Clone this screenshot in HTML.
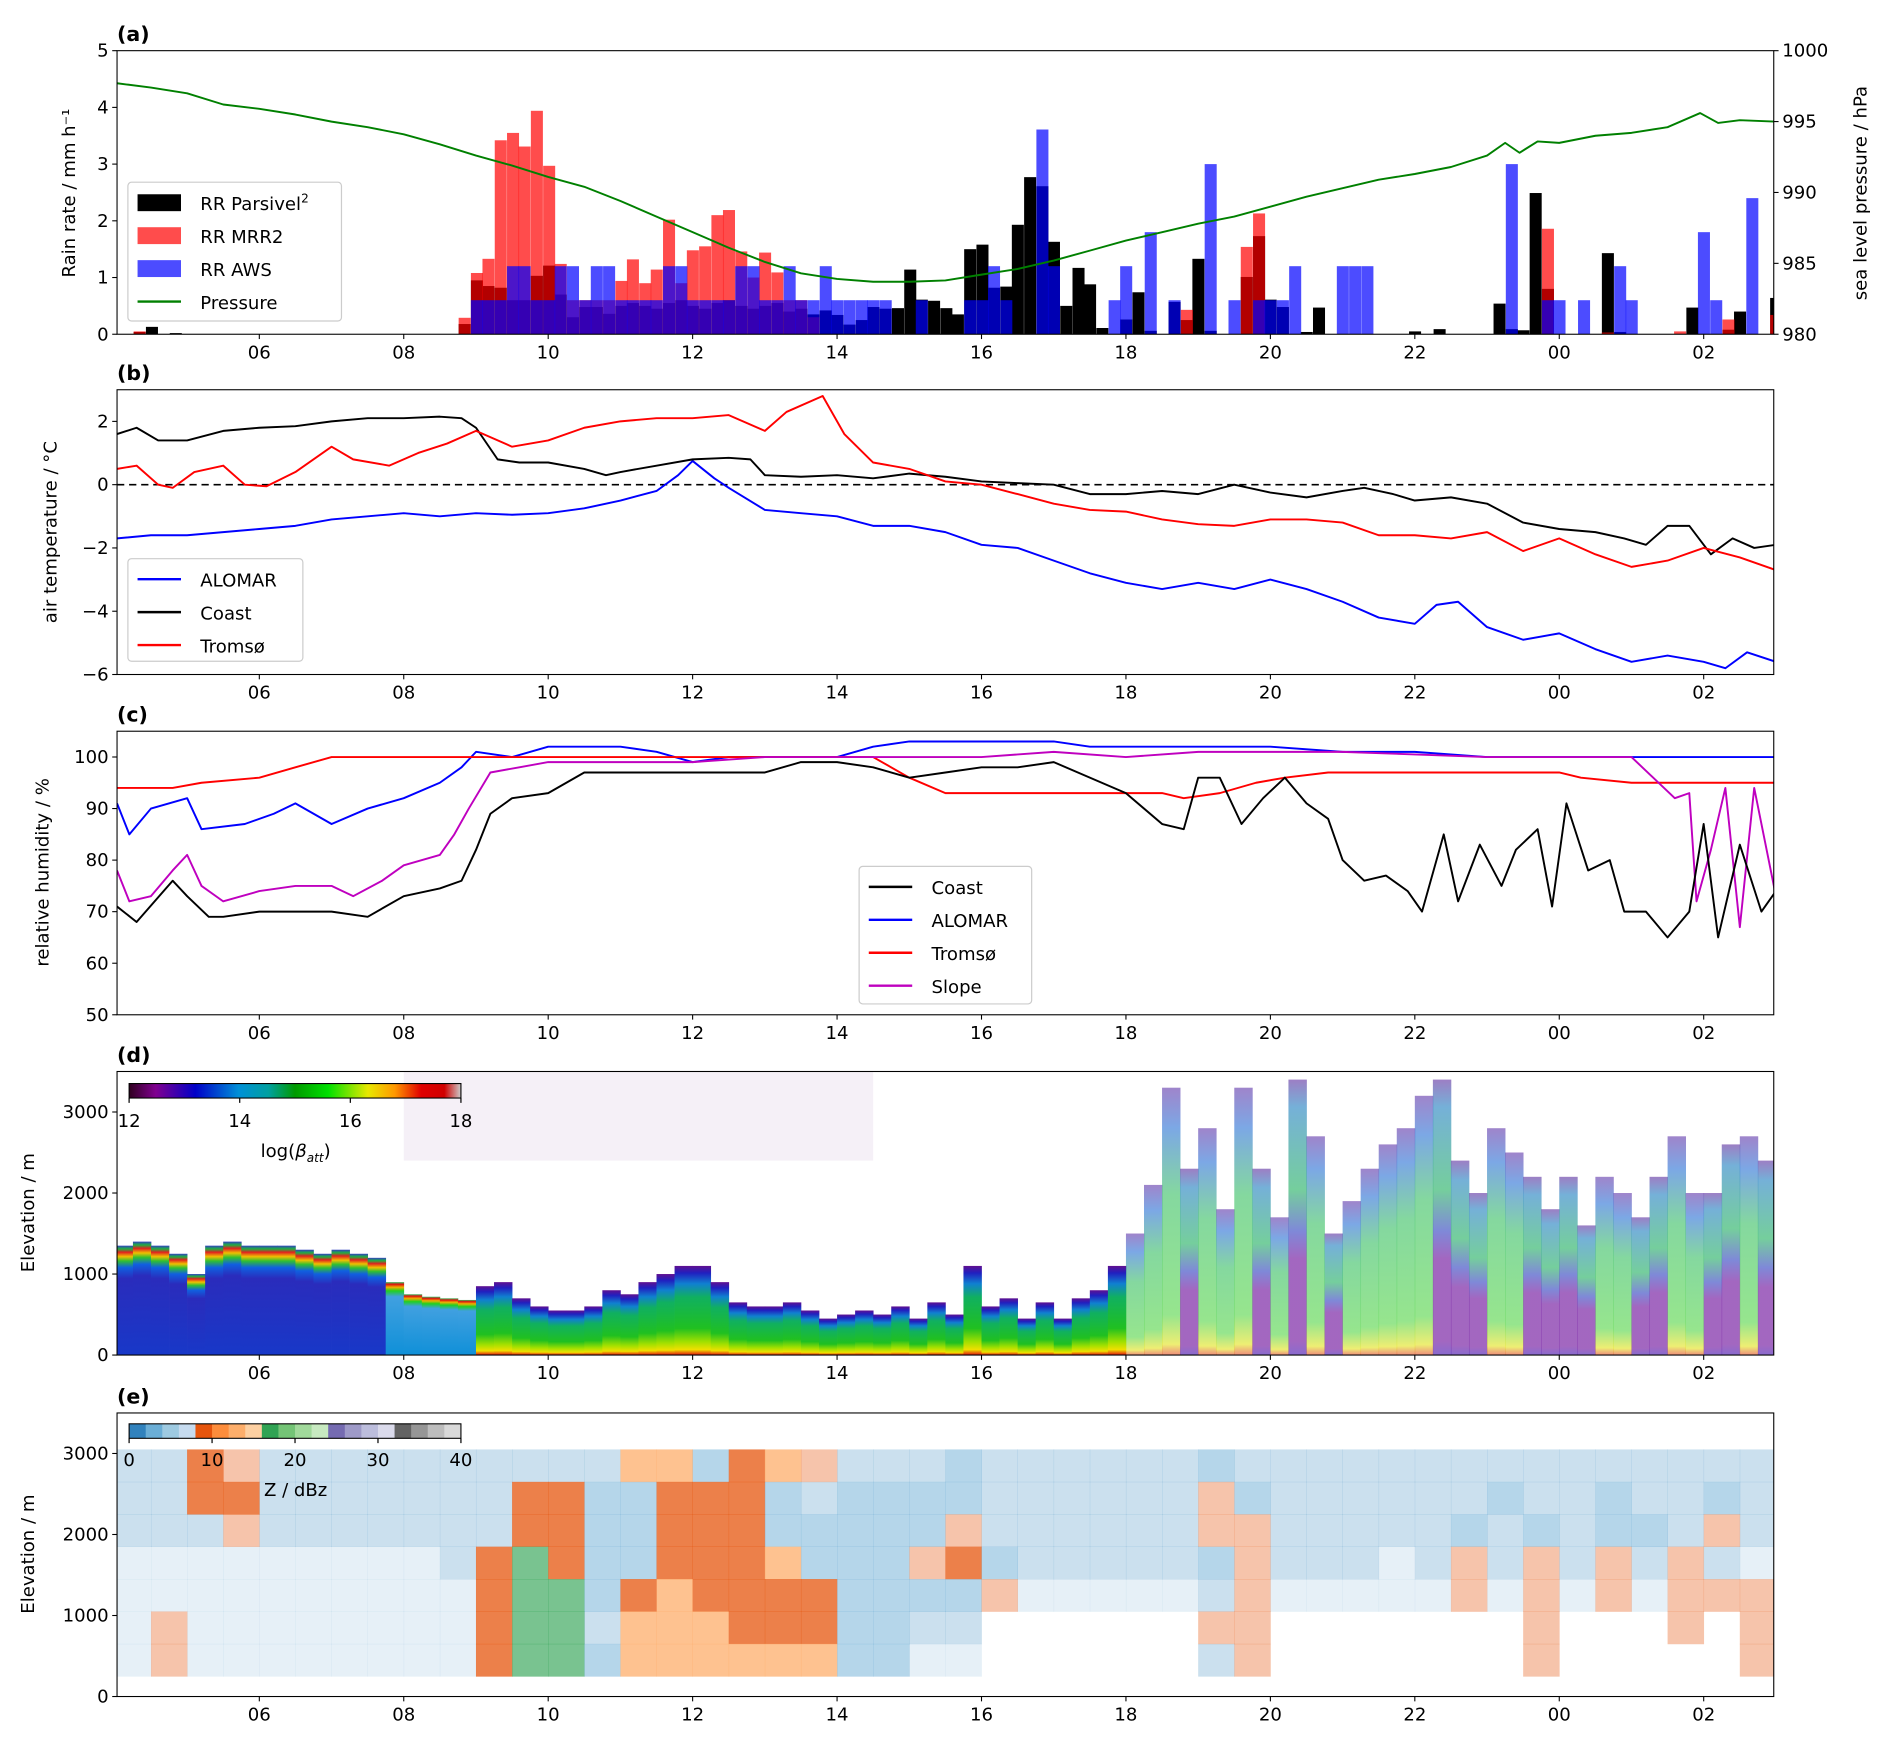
<!DOCTYPE html>
<html><head><meta charset="utf-8">
<style>
html,body{margin:0;padding:0;background:#fff;}
svg{display:block;font-family:"DejaVu Sans","Liberation Sans",sans-serif;}
</style></head>
<body>
<svg id="fig" width="1892" height="1746" viewBox="0 0 1568 1447" xmlns="http://www.w3.org/2000/svg">
<defs>
<linearGradient id="g0" x1="0" y1="1" x2="0" y2="0"><stop offset="0" stop-color="#1838c8"/><stop offset="0.7" stop-color="#2a2cbc"/><stop offset="0.8" stop-color="#1060e0"/><stop offset="0.86" stop-color="#30c030"/><stop offset="0.9" stop-color="#f0c000"/><stop offset="0.94" stop-color="#e02020"/><stop offset="0.97" stop-color="#20b040"/><stop offset="1" stop-color="#3040c0"/></linearGradient>
<linearGradient id="g4" x1="0" y1="1" x2="0" y2="0"><stop offset="0" stop-color="#1090d8"/><stop offset="0.8" stop-color="#40a0e0"/><stop offset="0.88" stop-color="#20d020"/><stop offset="0.93" stop-color="#f0b000"/><stop offset="0.97" stop-color="#e01010"/><stop offset="1" stop-color="#30c060"/></linearGradient>
<linearGradient id="g1" x1="0" y1="1" x2="0" y2="0"><stop offset="0" stop-color="#e01010"/><stop offset="0.06" stop-color="#f0e000"/><stop offset="0.15" stop-color="#a0e000"/><stop offset="0.3" stop-color="#20c020"/><stop offset="0.65" stop-color="#10b060"/><stop offset="0.8" stop-color="#1080d0"/><stop offset="0.92" stop-color="#2020c0"/><stop offset="1" stop-color="#601090"/></linearGradient>
<linearGradient id="g2" x1="0" y1="1" x2="0" y2="0"><stop offset="0" stop-color="#e03010"/><stop offset="0.04" stop-color="#e0e000"/><stop offset="0.15" stop-color="#40d030"/><stop offset="0.6" stop-color="#20b850"/><stop offset="0.85" stop-color="#1060d0"/><stop offset="1" stop-color="#5020a0"/></linearGradient>
<linearGradient id="g3" x1="0" y1="1" x2="0" y2="0"><stop offset="0" stop-color="#4010b0"/><stop offset="0.05" stop-color="#6a0a9a"/><stop offset="0.35" stop-color="#6a0a9a"/><stop offset="0.45" stop-color="#3040c0"/><stop offset="0.6" stop-color="#20b060"/><stop offset="0.9" stop-color="#2080c0"/><stop offset="1" stop-color="#6030a0"/></linearGradient>
<linearGradient id="cbd" x1="0" y1="0" x2="1" y2="0"><stop offset="0" stop-color="#300020"/><stop offset="0.08" stop-color="#800090"/><stop offset="0.2" stop-color="#0000c8"/><stop offset="0.33" stop-color="#0090d8"/><stop offset="0.42" stop-color="#00a0a0"/><stop offset="0.5" stop-color="#009a00"/><stop offset="0.6" stop-color="#00e000"/><stop offset="0.72" stop-color="#e8e800"/><stop offset="0.8" stop-color="#ff9900"/><stop offset="0.88" stop-color="#e00000"/><stop offset="0.95" stop-color="#d00000"/><stop offset="1" stop-color="#cccccc"/></linearGradient>
</defs>
</svg>
<script>
// ---------- data ----------
const parsT=[4.26,4.43,4.76,8.76,8.93,9.09,9.26,9.43,9.59,9.76,9.93,10.09,10.26,10.43,10.59,10.76,10.93,11.09,11.26,11.42,11.59,11.76,11.92,12.09,12.26,12.42,12.59,12.76,12.92,13.09,13.26,13.42,13.59,13.76,13.92,14.09,14.26,14.42,14.59,14.76,14.93,15.09,15.26,15.43,15.59,15.76,15.93,16.09,16.26,16.42,16.59,16.76,16.92,17.09,17.26,17.42,17.59,17.92,18.09,18.26,18.59,18.76,18.92,19.09,19.59,19.76,19.92,20.09,20.42,20.59,21.92,22.26,23.09,23.26,23.42,23.59,23.76,24.59,24.76,25.76,26.26,26.42,26.92];
const parsV=[0.04,0.13,0.02,0.18,0.95,0.85,0.82,0.6,0.6,1.03,1.21,0.7,0.3,0.48,0.48,0.36,0.5,0.55,0.5,0.45,0.55,0.6,0.5,0.45,0.55,0.6,0.5,0.45,0.5,0.55,0.4,0.45,0.35,0.42,0.34,0.17,0.25,0.48,0.45,0.46,1.14,0.61,0.59,0.46,0.35,1.5,1.58,0.82,0.84,1.93,2.77,2.61,1.63,0.5,1.17,0.88,0.11,0.26,0.74,0.06,0.57,0.25,1.33,0.06,1.01,1.73,0.61,0.48,0.04,0.47,0.05,0.09,0.54,0.09,0.07,2.49,0.8,1.43,0.04,0.47,0.08,0.4,0.64];
const mrrT=[4.26,8.76,8.93,9.09,9.26,9.43,9.59,9.76,9.93,10.09,10.26,10.43,10.59,10.76,10.93,11.09,11.26,11.42,11.59,11.76,11.92,12.09,12.26,12.42,12.59,12.76,12.92,13.09,13.26,13.42,13.59,18.76,19.59,19.76,23.76,24.59,25.59,26.26,26.92];
const mrrV=[0.05,0.29,1.08,1.33,3.42,3.55,3.31,3.94,2.97,1.24,0.6,0.6,0.6,0.6,0.94,1.32,0.9,1.14,2.02,0.9,1.48,1.55,2.1,2.19,1.46,1.0,1.44,1.09,0.6,0.6,0.3,0.43,1.54,2.13,1.86,0.03,0.05,0.26,0.34];
const awsT=[8.93,9.09,9.26,9.43,9.59,9.76,9.93,10.09,10.26,10.43,10.59,10.76,10.93,11.09,11.26,11.42,11.59,11.76,11.92,12.09,12.26,12.42,12.59,12.76,12.92,13.09,13.26,13.42,13.59,13.76,13.92,14.09,14.26,14.42,14.59,15.09,15.76,15.93,16.09,16.26,16.76,16.92,17.76,17.92,18.26,18.59,19.09,19.42,19.76,19.92,20.09,20.26,20.92,21.09,21.26,23.26,23.76,23.92,24.26,24.76,24.92,25.92,26.09,26.59];
const awsV=[0.6,0.6,0.6,1.2,1.2,0.6,0.6,1.2,1.2,0.6,1.2,1.2,0.6,0.6,0.6,0.6,1.2,1.2,0.6,0.6,0.6,0.6,1.2,1.2,0.6,0.6,1.2,0.6,0.6,1.2,0.6,0.6,0.6,0.6,0.6,0.6,0.6,0.6,1.2,0.6,3.61,1.2,0.6,1.2,1.8,0.6,3.0,0.6,0.6,0.6,0.6,1.2,1.2,1.2,1.2,3.0,0.6,0.6,0.6,1.2,0.6,1.8,0.6,2.4];
const presT=[4.03,4.5,5,5.5,6,6.5,7,7.5,8,8.5,9,9.5,10,10.5,11,11.5,12,12.5,13,13.5,14,14.5,15,15.5,16,16.5,17,17.5,18,18.5,19,19.5,20,20.5,21,21.5,22,22.5,23,23.25,23.45,23.7,24,24.5,25,25.5,25.95,26.2,26.5,27];
const presV=[997.7,997.4,997.0,996.2,995.9,995.5,995.0,994.6,994.1,993.4,992.6,991.9,991.1,990.4,989.4,988.3,987.2,986.1,985.1,984.3,983.9,983.7,983.7,983.8,984.2,984.6,985.2,985.9,986.6,987.2,987.8,988.3,989.0,989.7,990.3,990.9,991.3,991.8,992.6,993.5,992.8,993.6,993.5,994.0,994.2,994.6,995.6,994.9,995.1,995.0];

const tAloT=[4.03,4.5,5,5.5,6,6.5,7,7.5,8,8.5,9,9.5,10,10.5,11,11.5,11.8,12.0,12.3,12.5,13,13.5,14,14.5,15,15.5,16,16.5,17,17.5,18,18.5,19,19.5,20,20.5,21,21.5,22,22.3,22.6,23,23.5,24,24.5,25,25.5,26,26.3,26.6,27];
const tAloV=[-1.7,-1.6,-1.6,-1.5,-1.4,-1.3,-1.1,-1.0,-0.9,-1.0,-0.9,-0.95,-0.9,-0.75,-0.5,-0.2,0.3,0.75,0.2,-0.1,-0.8,-0.9,-1.0,-1.3,-1.3,-1.5,-1.9,-2.0,-2.4,-2.8,-3.1,-3.3,-3.1,-3.3,-3.0,-3.3,-3.7,-4.2,-4.4,-3.8,-3.7,-4.5,-4.9,-4.7,-5.2,-5.6,-5.4,-5.6,-5.8,-5.3,-5.6];
const tCoaT=[4.03,4.3,4.6,5,5.5,6,6.5,7,7.5,8,8.5,8.8,9.0,9.3,9.6,10,10.5,10.8,11,11.5,12,12.5,12.8,13.0,13.5,14,14.5,15,15.5,16,16.5,17,17.5,18,18.5,19,19.5,20,20.5,21,21.3,21.7,22,22.5,23,23.5,24,24.5,24.9,25.2,25.5,25.8,26.1,26.4,26.7,27];
const tCoaV=[1.6,1.8,1.4,1.4,1.7,1.8,1.85,2.0,2.1,2.1,2.15,2.1,1.8,0.8,0.7,0.7,0.5,0.3,0.4,0.6,0.8,0.85,0.8,0.3,0.25,0.3,0.2,0.35,0.25,0.1,0.05,0.0,-0.3,-0.3,-0.2,-0.3,0.0,-0.25,-0.4,-0.2,-0.1,-0.3,-0.5,-0.4,-0.6,-1.2,-1.4,-1.5,-1.7,-1.9,-1.3,-1.3,-2.2,-1.7,-2.0,-1.9];
const tTroT=[4.03,4.3,4.6,4.8,5.1,5.5,5.8,6.1,6.5,7.0,7.3,7.8,8.2,8.6,9.0,9.5,10,10.5,11,11.5,12,12.5,13,13.3,13.8,14.1,14.5,15,15.5,16,16.5,17,17.5,18,18.5,19,19.5,20,20.5,21,21.5,22,22.5,23,23.5,24,24.5,25,25.5,26,26.5,27];
const tTroV=[0.5,0.6,0.0,-0.1,0.4,0.6,0.0,-0.05,0.4,1.2,0.8,0.6,1.0,1.3,1.7,1.2,1.4,1.8,2.0,2.1,2.1,2.2,1.7,2.3,2.8,1.6,0.7,0.5,0.1,0.0,-0.3,-0.6,-0.8,-0.85,-1.1,-1.25,-1.3,-1.1,-1.1,-1.2,-1.6,-1.6,-1.7,-1.5,-2.1,-1.7,-2.2,-2.6,-2.4,-2.0,-2.3,-2.7];

const rhCoaT=[4.03,4.3,4.8,5.0,5.3,5.5,6,6.5,7,7.5,8,8.5,8.8,9.0,9.2,9.5,10,10.5,11,12,13,13.5,14,14.5,15,15.5,16,16.5,17,17.5,18,18.5,18.8,19,19.3,19.6,19.9,20.2,20.5,20.8,21,21.3,21.6,21.9,22.1,22.4,22.6,22.9,23.2,23.4,23.7,23.9,24.1,24.4,24.7,24.9,25.2,25.5,25.8,26.0,26.2,26.5,26.8,27];
const rhCoaV=[71,68,76,73,69,69,70,70,70,69,73,74.5,76,82,89,92,93,97,97,97,97,99,99,98,96,97,98,98,99,96,93,87,86,96,96,87,92,96,91,88,80,76,77,74,70,85,72,83,75,82,86,71,91,78,80,70,70,65,70,87,65,83,70,74];
const rhAloT=[4.03,4.2,4.5,5,5.2,5.8,6.2,6.5,7,7.5,8,8.5,8.8,9.0,9.5,10,11,11.5,12,12.5,13,14,14.5,15,16,17,17.5,18,19,20,21,22,23,24,25,27];
const rhAloV=[91,85,90,92,86,87,89,91,87,90,92,95,98,101,100,102,102,101,99,100,100,100,102,103,103,103,102,102,102,102,101,101,100,100,100,100];
const rhTroT=[4.03,4.8,5.2,6,6.5,7,8,14.5,15,15.5,16,17,18,18.5,18.8,19.3,19.8,20.2,20.8,24,24.3,25,27];
const rhTroV=[94,94,95,96,98,100,100,100,96,93,93,93,93,93,92,93,95,96,97,97,96,95,95];
const rhSloT=[4.03,4.2,4.5,4.8,5.0,5.2,5.5,6,6.5,7,7.3,7.7,8,8.5,8.7,8.9,9.2,9.6,10,12,13,16,17,18,19,21,23,25,25.6,25.8,25.9,26.1,26.3,26.5,26.7,26.9,27];
const rhSloV=[78,72,73,78,81,75,72,74,75,75,73,76,79,81,85,90,97,98,99,99,100,100,101,100,101,101,100,100,92,93,72,82,94,67,94,80,73];

// lidar backscatter panel (d): columns every 0.25 h from 04:00
const dStart=4.0;
const dTop=[1350,1400,1350,1250,1000,1350,1400,1350,1350,1350,1300,1250,1300,1250,1200,900,750,720,700,680,850,900,700,600,550,550,600,800,750,900,1000,1100,1100,900,650,600,600,650,550,450,500,550,500,600,450,650,500,1100,600,700,450,650,450,700,800,1100,1500,2100,3300,2300,2800,1800,3300,2300,1700,3400,2700,1500,1900,2300,2600,2800,3200,3400,2400,2000,2800,2500,2200,1800,2200,1600,2200,2000,1700,2200,2700,2000,2000,2600,2700,2400];
const dClass=[0,0,0,0,0,0,0,0,0,0,0,0,0,0,0,4,4,4,4,4,1,1,1,1,1,1,1,1,1,1,1,1,1,1,1,1,1,1,1,1,1,1,1,1,1,1,1,1,1,1,1,1,1,1,1,1,2,2,2,3,2,2,2,3,2,3,2,3,2,2,2,2,2,3,3,3,2,2,3,3,3,3,2,2,3,3,2,2,3,3,2,3];

// radar reflectivity panel (e): 0.5 h columns from 04:00, 7 layers of 400 m (top->bottom)
const eStart=4.0;
const eRows=[
"..oq..........ppbopq...b......b...............",
"..oo.......oobbooob.bbbb......qb......b..b..b.",
"...q.......oobbooobbbbbq......qq.....b.b.bb.q.",
",,,,,,,,,.ogobbooopbbbqob.....bq...,.q.q.q.q.,",
",,,,,,,,,,oggbopoooobbbbq,,,,,.q,,,,,q,q,q,qqq",
",q,,,,,,,,ogg.pppooobb..      qq       q   q q",
",q,,,,,,,,oggbppppppbb,,      .q       q     q"];
const eLevels=[2650,2250,1850,1450,1050,650,250];
const eVal={",":1,".":1,"b":3,"q":9,"o":9,"p":12,"g":17};
const eAlpha={",":0.12,".":0.25,"b":0.5,"q":0.35,"o":0.75,"p":0.75,"g":0.65};
const zColors=["#3182bd","#6baed6","#9ecae1","#c6dbef","#e6550d","#fd8d3c","#fdae6b","#fdd0a2","#31a354","#74c476","#a1d99b","#c7e9c0","#756bb1","#9e9ac8","#bcbddc","#dadaeb","#636363","#969696","#bdbdbd","#d9d9d9"];

// ---------- helpers ----------
const NS="http://www.w3.org/2000/svg";
const svg=document.getElementById('fig');
function mk(tag,attrs,parent){const e=document.createElementNS(NS,tag);for(const k in attrs)e.setAttribute(k,attrs[k]);(parent||svg).appendChild(e);return e;}
const X0=97,X1=1470,T0=4.03,T1=26.97;
function xs(t){return X0+(t-T0)*(X1-X0)/(T1-T0);}
function lin(d0,d1,r0,r1){return v=>r0+(v-d0)*(r1-r0)/(d1-d0);}
const P={a:[42,277],b:[323,559],c:[606,841],d:[888,1123],e:[1171,1406]};
const ya=lin(0,5,277,42), yp=lin(980,1000,277,42), yb=lin(-6,3,559,323), yc=lin(50,105,841,606), yd=lin(0,3500,1123,888), ye=lin(0,3500,1406,1171);
const FS=15;
function txt(x,y,s,attrs,parent){const e=mk('text',Object.assign({x:x,y:y,'font-size':FS,fill:'#000'},attrs||{}),parent);e.textContent=s;return e;}
function clip(id,key){const c=mk('clipPath',{id:id},svg.querySelector('defs'));mk('rect',{x:X0,y:P[key][0],width:X1-X0,height:P[key][1]-P[key][0]},c);}
['a','b','c','d','e'].forEach(k=>clip('clip-'+k,k));

function axes(key,name,yticks,yscale,letter){
  const g=mk('g',{});
  
  
  const [top,bot]=P[key];
  const hrs=[6,8,10,12,14,16,18,20,22,24,26];
  hrs.forEach(h=>{const x=xs(h);mk('line',{x1:x,x2:x,y1:bot,y2:bot+4,stroke:'#000','stroke-width':0.9},g);
    const l=txt(x,bot+20,String(h%24).padStart(2,'0'),{'text-anchor':'middle'},g);
    
    });
  yticks.forEach(v=>{const y=yscale(v);mk('line',{x1:X0-4,x2:X0,y1:y,y2:y,stroke:'#000','stroke-width':0.9},g);
    const l=txt(X0-7,y+5,String(v).replace('-','\u2212'),{'text-anchor':'end'},g);
    
    });
  const pl=txt(97,top-8,'('+letter+')',{'font-weight':'bold','font-size':17},g);
  
  
  return g;
}
function frame(key){const [top,bot]=P[key];const r=mk('rect',{x:X0,y:top,width:X1-X0,height:bot-top,fill:'none',stroke:'#000','stroke-width':0.9});}
function ylab(x,y,s,name){const e=txt(x,y,s,{'text-anchor':'middle',transform:'rotate(-90 '+x+' '+y+')'});return e;}
function line(T,V,ys,color,name,key,dash){
  const d=T.map((t,i)=>(i?'L':'M')+xs(t).toFixed(1)+' '+ys(V[i]).toFixed(1)).join(' ');
  const p=mk('path',{d:d,fill:'none',stroke:color,'stroke-width':1.6,'clip-path':'url(#clip-'+key+')','stroke-linejoin':'round'});
  if(dash)p.setAttribute('stroke-dasharray',dash);
  
  
  return p;
}
function legend(x,y,w,h,items,name){
  const g=mk('g',{});
  
  
  mk('rect',{x:x,y:y,width:w,height:h,rx:3,fill:'#fff','fill-opacity':0.85,stroke:'#ccc','stroke-width':1},g);
  items.forEach((it,i)=>{const cy=y+17+i*27.3;
    const ent=mk('g',{},g);
    
    
    if(it.patch)mk('rect',{x:x+8,y:cy-7,width:36,height:14,fill:it.color},ent);
    else mk('line',{x1:x+8,x2:x+44,y1:cy,y2:cy,stroke:it.color,'stroke-width':2},ent);
    const t=txt(x+60,cy+6,'',{},ent);
    if(it.sup){t.textContent=it.label;const s=mk('tspan',{'font-size':10,dy:-6},t);s.textContent=it.sup;}
    else t.textContent=it.label;
  });
}

// ---------- panel a ----------
axes('a','panel-a-axes',[0,1,2,3,4,5],ya,'a');
function bars(T,V,color,name){
  const g=mk('g',{'clip-path':'url(#clip-a)'});
  
  
  T.forEach((t,i)=>{const x0=xs(t),x1=xs(t+1/6);const r=mk('rect',{x:x0,y:ya(V[i]),width:x1-x0,height:ya(0)-ya(V[i]),fill:color},g);
    
    });
}
bars(parsT,parsV,'#000','series-parsivel');
bars(mrrT,mrrV,'rgba(255,0,0,0.7)','series-mrr2');
bars(awsT,awsV,'rgba(0,0,255,0.7)','series-aws');
line(presT,presV,yp,'#008000','series-pressure','a');
[980,985,990,995,1000].forEach(v=>{const y=yp(v);mk('line',{x1:X1,x2:X1+4,y1:y,y2:y,stroke:'#000','stroke-width':0.9});
  const l=txt(X1+7,y+5,String(v));});
frame('a');
ylab(62,160,'Rain rate / mm h\u207B\u00B9','y-axis-title-rain');
ylab(1547,160,'sea level pressure / hPa','y2-axis-title-pressure');
legend(106,151,177,115,[{label:'RR Parsivel',sup:'2',color:'#000',patch:1},{label:'RR MRR2',color:'rgba(255,0,0,0.7)',patch:1},{label:'RR AWS',color:'rgba(0,0,255,0.7)',patch:1},{label:'Pressure',color:'#008000'}],'legend-a');

// ---------- panel b ----------
axes('b','panel-b-axes',[-6,-4,-2,0,2],yb,'b');
const zl=mk('line',{x1:X0,x2:X1,y1:yb(0),y2:yb(0),stroke:'#000','stroke-width':1.4,'stroke-dasharray':'6 4'});

line(tAloT,tAloV,yb,'#0000ff','series-alomar-temp','b');
line(tCoaT,tCoaV,yb,'#000','series-coast-temp','b');
line(tTroT,tTroV,yb,'#ff0000','series-tromso-temp','b');
frame('b');
ylab(47,441,'air temperature / \u00B0C','y-axis-title-temp');
legend(106,463,145,85,[{label:'ALOMAR',color:'#0000ff'},{label:'Coast',color:'#000'},{label:'Troms\u00F8',color:'#ff0000'}],'legend-b');

// ---------- panel c ----------
axes('c','panel-c-axes',[50,60,70,80,90,100],yc,'c');
line(rhAloT,rhAloV,yc,'#0000ff','series-alomar-rh','c');
line(rhTroT,rhTroV,yc,'#ff0000','series-tromso-rh','c');
line(rhSloT,rhSloV,yc,'#bf00bf','series-slope-rh','c');
line(rhCoaT,rhCoaV,yc,'#000','series-coast-rh','c');
frame('c');
ylab(40,723,'relative humidity / %','y-axis-title-rh');
legend(712,718,143,114,[{label:'Coast',color:'#000'},{label:'ALOMAR',color:'#0000ff'},{label:'Troms\u00F8',color:'#ff0000'},{label:'Slope',color:'#bf00bf'}],'legend-c');

// ---------- panel d ----------
axes('d','panel-d-axes',[0,1000,2000,3000],yd,'d');
const dg=mk('g',{'clip-path':'url(#clip-d)'});


mk('rect',{x:xs(8),y:yd(3500),width:xs(14.5)-xs(8),height:yd(2400)-yd(3500),fill:'#f5f0f7'},dg);
const dOp=[1,1,0.55,0.62,1];
dTop.forEach((h,i)=>{const t=dStart+i*0.25;const c=dClass[i];
  const r=mk('rect',{x:xs(t),y:yd(h),width:xs(t+0.25)-xs(t)+0.3,height:yd(0)-yd(h),fill:'url(#g'+c+')','fill-opacity':dOp[c]},dg);
  
  });
frame('d');
ylab(28,1005,'Elevation / m','y-axis-title-elev-d');
// colorbar d
const cbg=mk('g',{});
mk('rect',{x:107,y:898,width:275,height:12,fill:'url(#cbd)',stroke:'#000','stroke-width':0.9},cbg);
const cbdTicks=[12,14,16,18];
cbdTicks.forEach(v=>{const x=107+(v-12)/6*275;mk('line',{x1:x,x2:x,y1:910,y2:914,stroke:'#000'},cbg);txt(x,934,String(v),{'text-anchor':'middle'},cbg);});
const lb=txt(245,959,'log(',{'text-anchor':'middle'},cbg);
const b1=mk('tspan',{'font-style':'italic'},lb);b1.textContent='\u03B2';
const b2=mk('tspan',{'font-size':10,dy:4,'font-style':'italic'},lb);b2.textContent='att';
const b3=mk('tspan',{dy:-4},lb);b3.textContent=')';

// ---------- panel e ----------
axes('e','panel-e-axes',[0,1000,2000,3000],ye,'e');
const eg=mk('g',{'clip-path':'url(#clip-e)'});


eRows.forEach((row,r)=>{const lo=eLevels[r],hi=lo+400;
  for(let i=0;i<row.length;i++){const ch=row[i];if(!(ch in eVal))continue;
    const v=eVal[ch];const col=zColors[Math.max(0,Math.min(19,Math.floor(v/2)))];
    const t=eStart+i*0.5;
    const c=mk('rect',{x:xs(t),y:ye(hi),width:xs(t+0.5)-xs(t)+0.3,height:ye(lo)-ye(hi)+0.3,fill:col,'fill-opacity':eAlpha[ch]},eg);
    
    }
});
frame('e');
ylab(28,1288,'Elevation / m','y-axis-title-elev-e');
const cbe=mk('g',{});
zColors.forEach((c,i)=>mk('rect',{x:107+i*275/20,y:1180,width:275/20+0.3,height:12,fill:c},cbe));
mk('rect',{x:107,y:1180,width:275,height:12,fill:'none',stroke:'#000','stroke-width':0.9},cbe);
[0,10,20,30,40].forEach(v=>{const x=107+v/40*275;mk('line',{x1:x,x2:x,y1:1192,y2:1196,stroke:'#000'},cbe);txt(x,1215,String(v),{'text-anchor':'middle'},cbe);});
txt(245,1240,'Z / dBz',{'text-anchor':'middle'},cbe);
</script>
</body></html>
